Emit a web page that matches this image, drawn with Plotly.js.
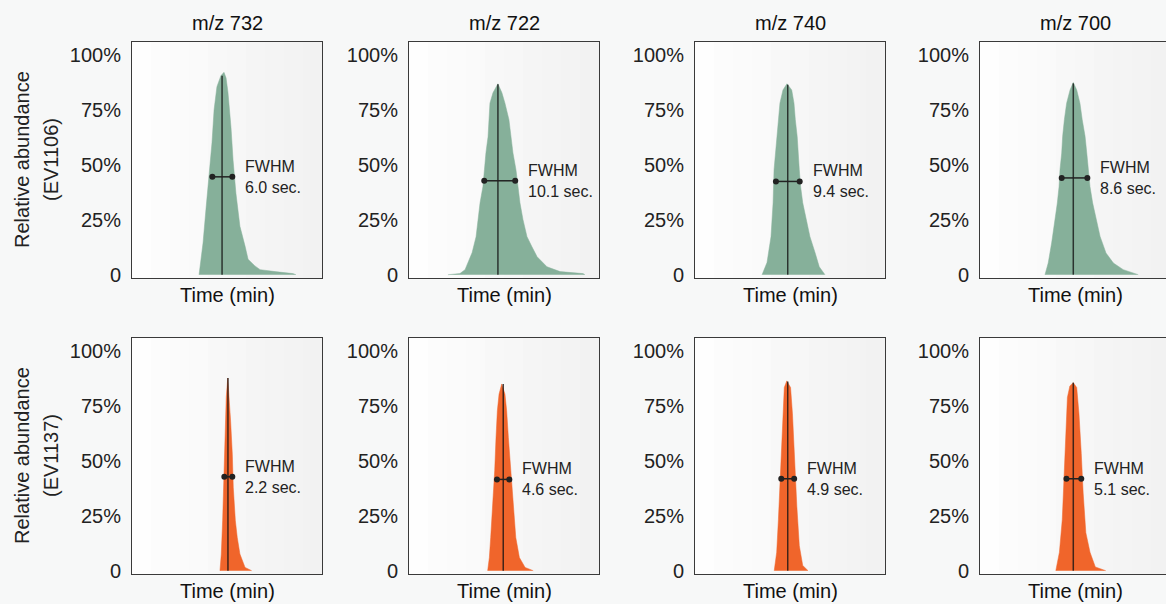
<!DOCTYPE html>
<html>
<head>
<meta charset="utf-8">
<script src="https://cdn.plot.ly/plotly-3.0.1.min.js"></script>
<style>html,body{margin:0;padding:0;background:#f7f8f8;}#chart{width:1166px;height:604px;}</style>
</head>
<body>
<div id="chart"></div>
<script>
// ---- Data (time in relative window units, abundance as fraction of max) ----
const mzLabels = ['m/z 732', 'm/z 722', 'm/z 740', 'm/z 700'];
const sampleLabels = ['(EV1106)', '(EV1137)'];
const fwhmSec = [[6.0, 10.1, 9.4, 8.6], [2.2, 4.6, 4.9, 5.1]];

// EV1106 row
const t_EV1106_732 = [35.3, 37.4, 38.9, 40.5, 42.1, 43.2, 44.7, 46.8, 48.4, 49.5, 50.5, 52.1, 53.2, 54.7, 55.8, 56.8, 59.5, 61.1, 64.7, 67.4, 75.3, 84.7, 86.3];
const a_EV1106_732 = [0, 0.145, 0.295, 0.445, 0.60, 0.75, 0.855, 0.905, 0.92, 0.895, 0.83, 0.67, 0.52, 0.37, 0.295, 0.22, 0.13, 0.07, 0.04, 0.023, 0.014, 0.005, 0];
const t_EV1106_722 = [20.5, 26.8, 29.5, 33.2, 35.3, 36.3, 37.4, 38.9, 39.5, 40.5, 41.6, 42.1, 42.6, 44.2, 46.3, 46.8, 48.9, 50.5, 52.6, 53.7, 54.7, 56.3, 57.4, 58.4, 60.0, 62.1, 64.7, 67.4, 72.6, 79.5, 91.6, 92.6];
const a_EV1106_722 = [0, 0.005, 0.023, 0.10, 0.173, 0.25, 0.327, 0.40, 0.477, 0.555, 0.627, 0.705, 0.78, 0.827, 0.864, 0.868, 0.827, 0.78, 0.705, 0.627, 0.555, 0.477, 0.40, 0.327, 0.25, 0.173, 0.127, 0.082, 0.036, 0.014, 0.005, 0];
const t_EV1106_740 = [35.3, 37.9, 40.0, 41.1, 41.6, 43.2, 43.7, 44.7, 46.3, 48.4, 50.9, 52.1, 52.8, 53.8, 54.9, 55.6, 56.7, 58.4, 60.5, 63.2, 65.4, 68.4];
const a_EV1106_740 = [0, 0.055, 0.173, 0.327, 0.477, 0.627, 0.705, 0.78, 0.84, 0.868, 0.84, 0.78, 0.705, 0.627, 0.477, 0.40, 0.327, 0.25, 0.173, 0.10, 0.036, 0];
const t_EV1106_700 = [34.2, 35.9, 37.7, 39.5, 40.7, 41.6, 42.1, 43.0, 43.5, 44.4, 45.6, 47.4, 49.1, 50.9, 52.6, 53.8, 55.3, 56.2, 57.0, 57.9, 59.3, 61.1, 63.2, 66.3, 70.2, 75.4, 83.3];
const a_EV1106_700 = [0, 0.053, 0.144, 0.25, 0.326, 0.40, 0.477, 0.553, 0.629, 0.705, 0.78, 0.84, 0.874, 0.84, 0.78, 0.705, 0.629, 0.553, 0.477, 0.40, 0.326, 0.25, 0.174, 0.099, 0.053, 0.023, 0];

// EV1137 row
const t_EV1137_732 = [46.3, 47.0, 47.7, 48.3, 48.8, 49.3, 49.6, 50.4, 51.2, 51.9, 52.8, 53.3, 54.4, 55.4, 56.8, 59.5, 63.0];
const a_EV1137_732 = [0, 0.076, 0.227, 0.379, 0.53, 0.68, 0.788, 0.876, 0.788, 0.68, 0.53, 0.379, 0.227, 0.151, 0.076, 0.015, 0];
const t_EV1137_722 = [41.4, 42.3, 43.0, 44.1, 45.1, 45.8, 46.5, 47.4, 48.8, 50.5, 51.4, 52.3, 53.5, 54.6, 56.2, 58.1, 61.1, 65.4];
const a_EV1137_722 = [0, 0.06, 0.151, 0.303, 0.455, 0.606, 0.727, 0.803, 0.849, 0.803, 0.727, 0.606, 0.455, 0.303, 0.151, 0.06, 0.015, 0];
const t_EV1137_740 = [41.7, 43.0, 43.9, 44.8, 45.7, 46.3, 47.0, 48.3, 50.3, 51.3, 52.2, 53.6, 54.9, 56.7, 59.5];
const a_EV1137_740 = [0, 0.084, 0.233, 0.413, 0.563, 0.713, 0.833, 0.863, 0.833, 0.713, 0.533, 0.293, 0.114, 0.024, 0];
const t_EV1137_700 = [39.9, 41.8, 43.3, 44.2, 45.1, 46.0, 47.3, 49.1, 50.9, 52.1, 53.3, 54.3, 55.7, 57.9, 60.7, 66.2];
const a_EV1137_700 = [0, 0.084, 0.233, 0.413, 0.607, 0.788, 0.84, 0.855, 0.833, 0.713, 0.533, 0.353, 0.173, 0.084, 0.017, 0];

// apex marker (time, height) and FWHM bar (left, right, height)
const apexTime   = [[47.4, 46.8, 48.8, 49.1], [50.5, 49.6, 48.8, 49.1]];
const apexHeight = [[0.905, 0.866, 0.864, 0.870], [0.876, 0.849, 0.860, 0.855]];
const fwhmLeft   = [[42.3, 39.6, 42.6, 43.0], [48.6, 46.3, 45.4, 45.5]];
const fwhmRight  = [[52.8, 55.9, 55.1, 56.5], [52.8, 52.8, 52.2, 53.3]];
const fwhmHeight = [[0.445, 0.427, 0.424, 0.440], [0.427, 0.415, 0.418, 0.418]];

const yTickVals = [0, 0.25, 0.5, 0.75, 1];
const yTickText = ['0', '25%', '50%', '75%', '100%'];

const series = [
  [[t_EV1106_732, a_EV1106_732], [t_EV1106_722, a_EV1106_722], [t_EV1106_740, a_EV1106_740], [t_EV1106_700, a_EV1106_700]],
  [[t_EV1137_732, a_EV1137_732], [t_EV1137_722, a_EV1137_722], [t_EV1137_740, a_EV1137_740], [t_EV1137_700, a_EV1137_700]]
];

// ---- Layout geometry ----
const W = 1166, H = 604;
const colLeft = [132, 409, 695, 980];
const boxW = 190;
const rowTop = [42, 338];
const boxH = 236;
const rowColors = ['#86b09a', '#f0652b'];
// plot-area background shading (light left to slightly grey right)
const bgSteps = ['#fefefe', '#fcfcfc', '#fbfbfb', '#fafafa', '#f8f8f8', '#f7f7f7', '#f5f5f5', '#f4f4f4', '#f3f3f3', '#f2f2f2'];

const traces = [];
const layout = {
  width: W, height: H,
  margin: {l: 0, r: 0, t: 0, b: 0},
  paper_bgcolor: '#f7f8f8',
  plot_bgcolor: '#f9f9f9',
  showlegend: false,
  font: {family: 'Liberation Sans, Arial, sans-serif', color: '#222'},
  annotations: [],
  shapes: []
};

for (let r = 0; r < 2; r++) {
  for (let c = 0; c < 4; c++) {
    const n = r * 4 + c + 1;
    const xa = 'xaxis' + (n === 1 ? '' : n), ya = 'yaxis' + (n === 1 ? '' : n);
    const xr = 'x' + (n === 1 ? '' : n), yr = 'y' + (n === 1 ? '' : n);
    const x0 = colLeft[c] / W;
    const x1 = Math.min(colLeft[c] + boxW, W) / W;
    const visW = Math.min(colLeft[c] + boxW, W) - colLeft[c];
    const frac = visW / boxW;
    const y1 = 1 - rowTop[r] / H, y0 = 1 - (rowTop[r] + boxH) / H;
    layout[xa] = {
      domain: [x0, x1], range: [0, 100 * frac], anchor: yr,
      showticklabels: false, ticks: '', showgrid: false, zeroline: false,
      showline: true, linecolor: '#3a3a3a', linewidth: 1, mirror: true, fixedrange: true
    };
    layout[ya] = {
      domain: [y0, y1], range: [-0.015, 1.058], anchor: xr,
      tickvals: yTickVals, ticktext: yTickText, ticks: '',
      tickfont: {size: 20, color: '#222'}, ticklabelstandoff: 6,
      showgrid: false, zeroline: false,
      showline: true, linecolor: '#3a3a3a', linewidth: 1, mirror: c < 3, fixedrange: true
    };
    // background shading strips
    for (let k = 0; k < bgSteps.length; k++) {
      const s0 = k / bgSteps.length / frac, s1 = (k + 1) / bgSteps.length / frac;
      if (s0 >= 1) break;
      layout.shapes.push({
        type: 'rect', xref: xr + ' domain', yref: yr + ' domain',
        x0: s0, x1: Math.min(s1, 1), y0: 0, y1: 1,
        fillcolor: bgSteps[k], line: {width: 0}, layer: 'below'
      });
    }
    const [tt, aa] = series[r][c];
    traces.push({
      type: 'scatter', mode: 'lines', x: tt, y: aa, xaxis: xr, yaxis: yr,
      fill: 'tozeroy', fillcolor: rowColors[r], line: {color: rowColors[r], width: 0.5},
      hoverinfo: 'skip'
    });
    traces.push({
      type: 'scatter', mode: 'lines', x: [apexTime[r][c], apexTime[r][c]], y: [0, apexHeight[r][c]],
      xaxis: xr, yaxis: yr, line: {color: 'rgba(20,20,20,0.8)', width: 1.5}, hoverinfo: 'skip'
    });
    traces.push({
      type: 'scatter', mode: 'lines+markers', x: [fwhmLeft[r][c], fwhmRight[r][c]], y: [fwhmHeight[r][c], fwhmHeight[r][c]],
      xaxis: xr, yaxis: yr, line: {color: '#222', width: 1.5}, marker: {color: '#222', size: 6}, hoverinfo: 'skip'
    });
    layout.annotations.push({
      xref: xr, yref: yr, x: fwhmRight[r][c], y: fwhmHeight[r][c], xshift: 11,
      xanchor: 'left', yanchor: 'middle', align: 'left', showarrow: false,
      text: 'FWHM<br>' + fwhmSec[r][c].toFixed(1) + ' sec.', font: {size: 16, color: '#222'}
    });
    layout.annotations.push({
      xref: xr + ' domain', yref: 'paper', x: 0.5 / frac, y: 1 - (rowTop[r] + boxH + 17) / H,
      xanchor: 'center', yanchor: 'middle', showarrow: false,
      text: 'Time (min)', font: {size: 20, color: '#111'}
    });
    if (r === 0) {
      layout.annotations.push({
        xref: xr + ' domain', yref: 'paper', x: 0.5 / frac, y: 1 - 23 / H,
        xanchor: 'center', yanchor: 'middle', showarrow: false,
        text: mzLabels[c], font: {size: 20, color: '#111'}
      });
    }
  }
  const yc = 1 - (rowTop[r] + boxH / 2) / H;
  layout.annotations.push({
    xref: 'paper', yref: 'paper', x: 22 / W, y: yc, xanchor: 'center', yanchor: 'middle',
    textangle: -90, showarrow: false, text: 'Relative abundance', font: {size: 20, color: '#222'}
  });
  layout.annotations.push({
    xref: 'paper', yref: 'paper', x: 51 / W, y: yc, xanchor: 'center', yanchor: 'middle',
    textangle: -90, showarrow: false, text: sampleLabels[r], font: {size: 20, color: '#222'}
  });
}

Plotly.newPlot('chart', traces, layout, {displayModeBar: false, staticPlot: true});
</script>
</body>
</html>
